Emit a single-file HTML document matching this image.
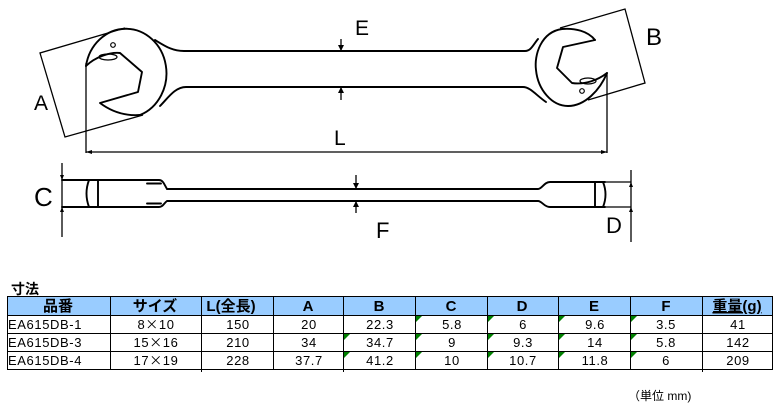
<!DOCTYPE html>
<html>
<head>
<meta charset="utf-8">
<style>
html,body{margin:0;padding:0;background:#fff;}
body{width:780px;height:408px;overflow:hidden;}
svg{display:block;}
.lbl{font-family:"Liberation Sans","DejaVu Sans",sans-serif;fill:#000;}
.cj{font-family:"Liberation Sans","Noto Sans CJK JP",sans-serif;fill:#000;}
.fw{font-family:"Noto Sans CJK JP",sans-serif;}
</style>
</head>
<body>
<svg width="780" height="408" viewBox="0 0 780 408" xmlns="http://www.w3.org/2000/svg">
  <rect x="0" y="0" width="780" height="408" fill="#fff"/>

  <!-- ===== Top view wrench ===== -->
  <g fill="none" stroke="#000" stroke-width="1.9" stroke-linejoin="round" stroke-linecap="round">
    <path d="M86,66 A40.5,44.5 0 1 1 140,115"/>
    <path d="M86,66 C95,57 110,52 120,53 L142,72 L138,92 L100,103 C112,112 126,116 140,115"/>
    <path d="M155,40 C165,46 172,51 184,51 L525,51 C531,51 533,45 538,39"/>
    <path d="M160,106 C168,98 175,87 186,87 L523,87 C530,87 536,95 546,102"/>
    <path d="M595,40 C588,31 575,28 562,29 C541,32 534,55 536,70 C538,90 552,106 568,106 C585,106 600,90 607,73"/>
    <path d="M595,40 L563,47 L557,68 L572,83 C585,85 598,80 607,73"/>
  </g>
  <g fill="none" stroke="#000" stroke-width="1.2">
    <ellipse cx="108" cy="57" rx="9" ry="3"/>
    <circle cx="113" cy="45" r="2.3"/>
    <ellipse cx="588" cy="81" rx="8" ry="3"/>
    <circle cx="582" cy="91" r="2.3"/>
  </g>

  <g fill="none" stroke="#000" stroke-width="1.3">
    <polyline points="125,28 40,53 65,137 143,115"/>
    <polyline points="560,28 625,9 645,83 588,100"/>
    <line x1="86" y1="63" x2="86" y2="153"/>
    <line x1="607" y1="73" x2="607" y2="153"/>
    <line x1="86" y1="152" x2="607" y2="152"/>
    <line x1="341" y1="39" x2="341" y2="50"/>
    <line x1="341" y1="88" x2="341" y2="100"/>
  </g>
  <g fill="#000">
    <polygon points="86,152 92,150 92,154"/>
    <polygon points="607,152 601,150 601,154"/>
    <polygon points="341,51 338,45 344,45"/>
    <polygon points="341,87 338,93 344,93"/>
  </g>

  <!-- ===== Side view ===== -->
  <g fill="none" stroke="#000" stroke-width="1.9" stroke-linecap="round">
    <path d="M62,180 L159,180 C163,180 164,184 167,189 L538,189 C542,189 544,182 550,182 L605,182"/>
    <path d="M62,207 L159,207 C163,207 164,203 167,201 L538,201 C542,201 544,207 550,207 L605,207"/>
    <line x1="147" y1="183.5" x2="161" y2="183.5"/>
    <line x1="147" y1="203.5" x2="161" y2="203.5"/>
    <path d="M89,180 Q84,193.5 89,207"/>
    <line x1="98" y1="180" x2="98" y2="207"/>
    <line x1="595" y1="182" x2="595" y2="207"/>
    <path d="M603,182 Q608,194.5 603,207"/>
  </g>
  <g fill="none" stroke="#000" stroke-width="1.3">
    <line x1="62" y1="163" x2="62" y2="237"/>
    <line x1="605" y1="182" x2="631" y2="182"/>
    <line x1="605" y1="207" x2="631" y2="207"/>
    <line x1="631" y1="170" x2="631" y2="242"/>
    <line x1="356" y1="175" x2="356" y2="188"/>
    <line x1="356" y1="202" x2="356" y2="213"/>
  </g>
  <g fill="#000">
    <polygon points="356,189 353,183 359,183"/>
    <polygon points="356,201 353,207 359,207"/>
    <polygon points="62,180 60,175 64,175"/>
    <polygon points="62,207 60,212 64,212"/>
    <polygon points="631,182 629,187 633,187"/>
    <polygon points="631,207 629,212 633,212"/>
  </g>

  <!-- dimension labels -->
  <text class="lbl" x="355" y="35" font-size="21">E</text>
  <text class="lbl" x="34" y="110" font-size="21">A</text>
  <text class="lbl" x="334" y="145" font-size="21">L</text>
  <text class="lbl" x="646" y="45" font-size="24">B</text>
  <text class="lbl" x="34" y="206" font-size="26">C</text>
  <text class="lbl" x="376" y="238" font-size="22">F</text>
  <text class="lbl" x="606" y="233" font-size="22">D</text>

  <!-- ===== Table ===== -->
  <text class="cj" x="11" y="294" font-size="14" font-weight="bold">寸法</text>
  <rect x="7" y="296" width="765" height="19" fill="#99ccff"/>
  <g stroke="#000" stroke-width="1" fill="none" shape-rendering="crispEdges">
    <line x1="7" y1="296.5" x2="773" y2="296.5"/>
    <line x1="7" y1="315.5" x2="773" y2="315.5"/>
    <line x1="7" y1="333.5" x2="773" y2="333.5"/>
    <line x1="7" y1="351.5" x2="773" y2="351.5"/>
    <line x1="7" y1="369.5" x2="773" y2="369.5"/>
    <line x1="7.5" y1="296" x2="7.5" y2="370"/>
    <line x1="110.5" y1="296" x2="110.5" y2="370"/>
    <line x1="201.5" y1="296" x2="201.5" y2="372"/>
    <line x1="273.5" y1="296" x2="273.5" y2="370"/>
    <line x1="343.5" y1="296" x2="343.5" y2="372"/>
    <line x1="415.5" y1="296" x2="415.5" y2="370"/>
    <line x1="487.5" y1="296" x2="487.5" y2="370"/>
    <line x1="558.5" y1="296" x2="558.5" y2="370"/>
    <line x1="630.5" y1="296" x2="630.5" y2="370"/>
    <line x1="702.5" y1="296" x2="702.5" y2="372"/>
    <line x1="772.5" y1="296" x2="772.5" y2="370"/>
  </g>
  <g fill="#008000">
    <polygon points="344,334 350,334 344,340"/>
    <polygon points="344,352 350,352 344,358"/>
    <polygon points="416,316 422,316 416,322"/>
    <polygon points="416,334 422,334 416,340"/>
    <polygon points="416,352 422,352 416,358"/>
    <polygon points="488,316 494,316 488,322"/>
    <polygon points="488,334 494,334 488,340"/>
    <polygon points="488,352 494,352 488,358"/>
    <polygon points="559,316 565,316 559,322"/>
    <polygon points="559,334 565,334 559,340"/>
    <polygon points="559,352 565,352 559,358"/>
    <polygon points="631,316 637,316 631,322"/>
    <polygon points="631,334 637,334 631,340"/>
    <polygon points="631,352 637,352 631,358"/>
  </g>

  <g class="cj" font-size="15" font-weight="bold" text-anchor="middle">
    <text x="58" y="311">品番</text>
    <text x="155" y="311">サイズ</text>
    <text x="231" y="311">L(全長)</text>
    <text x="308" y="311">A</text>
    <text x="379" y="311">B</text>
    <text x="451" y="311">C</text>
    <text x="522" y="311">D</text>
    <text x="594" y="311">E</text>
    <text x="666" y="311">F</text>
    <text x="737" y="311" text-decoration="underline">重量(g)</text>
  </g>

  <g class="cj" font-size="13" letter-spacing="0.6">
    <text x="8" y="329">EA615DB-1</text>
    <text x="8" y="347">EA615DB-3</text>
    <text x="8" y="365">EA615DB-4</text>
  </g>
  <g class="cj" font-size="13" letter-spacing="0.6" text-anchor="middle">
    <text x="156" y="329">8<tspan class="fw">×</tspan>10</text>
    <text x="156" y="347">15<tspan class="fw">×</tspan>16</text>
    <text x="156" y="365">17<tspan class="fw">×</tspan>19</text>
    <text x="238" y="329">150</text>
    <text x="238" y="347">210</text>
    <text x="238" y="365">228</text>
    <text x="309" y="329">20</text>
    <text x="309" y="347">34</text>
    <text x="309" y="365">37.7</text>
    <text x="380" y="329">22.3</text>
    <text x="380" y="347">34.7</text>
    <text x="380" y="365">41.2</text>
    <text x="452" y="329">5.8</text>
    <text x="452" y="347">9</text>
    <text x="452" y="365">10</text>
    <text x="523" y="329">6</text>
    <text x="523" y="347">9.3</text>
    <text x="523" y="365">10.7</text>
    <text x="595" y="329">9.6</text>
    <text x="595" y="347">14</text>
    <text x="595" y="365">11.8</text>
    <text x="666" y="329">3.5</text>
    <text x="666" y="347">5.8</text>
    <text x="666" y="365">6</text>
    <text x="738" y="329">41</text>
    <text x="738" y="347">142</text>
    <text x="738" y="365">209</text>
  </g>

  <text class="cj" x="628" y="400" font-size="12">（単位 mm)</text>
</svg>
</body>
</html>
